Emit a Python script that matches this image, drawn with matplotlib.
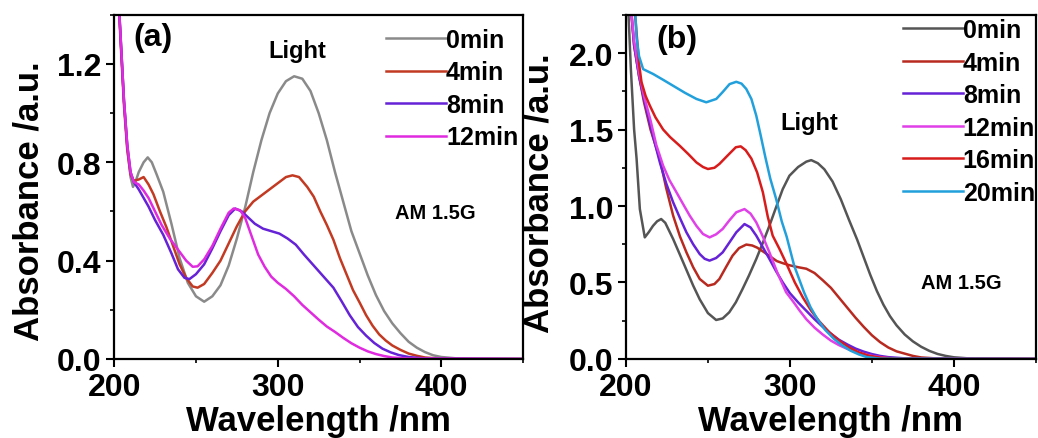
import matplotlib
matplotlib.use('Agg')
import matplotlib.pyplot as plt
from matplotlib.ticker import MultipleLocator

plt.rcParams['font.family'] = ['Liberation Sans', 'DejaVu Sans']
plt.rcParams['font.weight'] = 'bold'

# ---- panel (a) ----
a0_wl = [202, 204, 206, 208, 210, 211.5, 213, 215, 218, 220.5, 223, 226, 230, 235, 240, 245, 250, 255,
         260, 265, 270, 275, 280, 285, 290, 295, 300, 305, 310, 315, 320, 325, 330, 335, 340, 345, 350,
         355, 360, 365, 370, 375, 380, 385, 390, 395, 400, 410, 420, 450]
a0_abs = [1.55, 1.30, 1.05, 0.86, 0.74, 0.70, 0.72, 0.76, 0.80, 0.82, 0.80, 0.75, 0.68, 0.55, 0.41, 0.31,
          0.255, 0.233, 0.255, 0.30, 0.38, 0.49, 0.615, 0.76, 0.89, 1.00, 1.08, 1.13, 1.15, 1.14, 1.09, 1.00,
          0.89, 0.76, 0.64, 0.52, 0.43, 0.34, 0.26, 0.195, 0.145, 0.105, 0.07, 0.046, 0.028, 0.015, 0.008,
          0.002, 0.0, 0.0]

a4_wl = [202, 204, 206, 208, 210, 212, 215, 218, 221, 224, 228, 232, 236, 240, 244, 248, 251, 255, 260,
         265, 270, 275, 280, 285, 290, 295, 300, 305, 309, 313, 318, 322, 326, 330, 334, 338, 342, 346,
         350, 354, 358, 362, 366, 370, 375, 380, 385, 390, 400, 450]
a4_abs = [1.55, 1.28, 1.03, 0.85, 0.75, 0.725, 0.73, 0.74, 0.71, 0.67, 0.60, 0.535, 0.46, 0.385, 0.33,
          0.295, 0.29, 0.305, 0.35, 0.40, 0.47, 0.54, 0.60, 0.64, 0.665, 0.69, 0.715, 0.74, 0.747, 0.74,
          0.70, 0.66, 0.60, 0.545, 0.485, 0.41, 0.345, 0.28, 0.23, 0.178, 0.135, 0.10, 0.075, 0.055, 0.037,
          0.022, 0.013, 0.006, 0.001, 0.0]

a8_wl = [202, 204, 206, 208, 210, 212, 215, 218, 221, 225, 230, 235, 239, 243, 246, 250, 255, 260, 265,
         270, 274, 278, 282, 286, 291, 296, 301, 306, 311, 316, 322, 328, 334, 339, 344, 349, 354, 359,
         364, 369, 374, 380, 390, 450]
a8_abs = [1.55, 1.30, 1.05, 0.87, 0.76, 0.72, 0.69, 0.655, 0.62, 0.565, 0.505, 0.43, 0.365, 0.33, 0.325,
          0.345, 0.385, 0.45, 0.52, 0.585, 0.612, 0.60, 0.575, 0.55, 0.53, 0.52, 0.51, 0.49, 0.465, 0.425,
          0.38, 0.335, 0.29, 0.235, 0.178, 0.13, 0.095, 0.065, 0.042, 0.027, 0.016, 0.008, 0.002, 0.0]

a12_wl = [202, 204, 206, 208, 210, 212, 215, 218, 221, 225, 229, 234, 239, 244, 248, 251, 255, 260, 265,
          270, 273, 277, 280, 284, 288, 292, 296, 300, 305, 310, 315, 320, 325, 330, 335, 340, 345, 350,
          355, 360, 365, 370, 380, 450]
a12_abs = [1.55, 1.30, 1.05, 0.87, 0.76, 0.72, 0.71, 0.685, 0.655, 0.60, 0.545, 0.49, 0.445, 0.40, 0.375,
           0.377, 0.405, 0.46, 0.53, 0.595, 0.612, 0.605, 0.575, 0.50, 0.425, 0.375, 0.335, 0.31, 0.285,
           0.255, 0.22, 0.19, 0.16, 0.132, 0.11, 0.086, 0.064, 0.046, 0.031, 0.02, 0.012, 0.006, 0.002, 0.0]

# ---- panel (b) ----
b0_wl = [201, 203, 205, 206.5, 208.5, 211.5, 214, 216.5, 219, 221.5, 224, 228.8, 233, 237, 241, 245,
         250, 255, 259, 263, 267, 271, 275, 279.5, 283.5, 287.5, 291.5, 295.6, 299.7, 305, 310, 313, 317,
         321, 326, 331, 336, 341, 345, 349, 353, 357, 361, 365, 370, 375, 380, 385, 390, 395, 400, 410,
         420, 450]
b0_abs = [2.4, 1.9, 1.5, 1.31, 0.98, 0.795, 0.83, 0.87, 0.90, 0.915, 0.89, 0.784, 0.68, 0.58, 0.48, 0.39,
          0.30, 0.255, 0.265, 0.305, 0.37, 0.455, 0.545, 0.654, 0.76, 0.871, 0.99, 1.11, 1.198, 1.255,
          1.29, 1.30, 1.28, 1.24, 1.16, 1.045, 0.91, 0.78, 0.665, 0.55, 0.445, 0.355, 0.28, 0.22, 0.16,
          0.115, 0.08, 0.053, 0.033, 0.02, 0.011, 0.003, 0.0, 0.0]

b4_wl = [203, 205, 208, 211, 215, 220.7, 224.5, 228.8, 233, 236.9, 241, 245, 250, 254, 257, 261, 265,
         269, 273.4, 277, 280, 284, 288, 292, 296, 300, 305, 310, 315, 320, 325, 330, 335, 340, 345, 350,
         355, 360, 365, 370, 375, 380, 390, 450]
b4_abs = [2.3, 2.05, 1.85, 1.68, 1.50, 1.307, 1.12, 0.937, 0.80, 0.697, 0.60, 0.523, 0.479, 0.49, 0.523,
          0.60, 0.675, 0.725, 0.748, 0.742, 0.728, 0.70, 0.67, 0.64, 0.625, 0.612, 0.60, 0.59, 0.562, 0.515,
          0.465, 0.40, 0.335, 0.27, 0.21, 0.155, 0.11, 0.075, 0.05, 0.035, 0.02, 0.01, 0.003, 0.0]

b8_wl = [203, 205, 208, 211, 215, 220.7, 224.5, 228.8, 233, 236.9, 241, 245, 248, 251, 255, 259, 263,
         267.3, 272.3, 276, 279.5, 283.5, 287.5, 291.5, 295.6, 300, 305, 310, 315, 320, 325, 330, 335,
         340, 345, 350, 355, 360, 370, 450]
b8_abs = [2.3, 2.05, 1.85, 1.70, 1.52, 1.285, 1.15, 1.024, 0.92, 0.828, 0.75, 0.686, 0.655, 0.643, 0.66,
          0.697, 0.76, 0.828, 0.882, 0.86, 0.806, 0.73, 0.654, 0.575, 0.501, 0.43, 0.37, 0.315, 0.26, 0.21,
          0.165, 0.125, 0.095, 0.068, 0.048, 0.032, 0.02, 0.012, 0.004, 0.0]

b12_wl = [203, 205, 208, 211, 215, 218.5, 222.7, 226.5, 230.8, 235, 238.9, 243, 247, 251, 255, 259, 263,
          267.3, 272.3, 276, 279.5, 283.5, 287.5, 292.5, 297.7, 302, 306, 310, 315, 320, 325, 330, 335,
          340, 345, 350, 355, 360, 370, 450]
b12_abs = [2.3, 2.08, 1.87, 1.72, 1.56, 1.40, 1.263, 1.17, 1.09, 1.01, 0.937, 0.87, 0.817, 0.795, 0.815,
           0.85, 0.905, 0.959, 0.98, 0.95, 0.893, 0.80, 0.697, 0.56, 0.436, 0.375, 0.315, 0.26, 0.205, 0.16,
           0.12, 0.09, 0.066, 0.047, 0.032, 0.02, 0.012, 0.006, 0.002, 0.0]

b16_wl = [204, 206, 208, 209.5, 212, 214.6, 218, 222.7, 227, 232.8, 238, 243, 247, 250, 254, 257, 262,
          267, 270, 273, 276.5, 280, 283.5, 286.5, 289.5, 293.6, 298, 303, 308, 313, 318, 324, 330, 336,
          342, 348, 355, 365, 450]
b16_abs = [2.4, 2.2, 1.93, 1.81, 1.72, 1.656, 1.58, 1.50, 1.45, 1.394, 1.34, 1.285, 1.255, 1.242, 1.25,
           1.275, 1.33, 1.384, 1.39, 1.365, 1.31, 1.22, 1.09, 0.93, 0.806, 0.72, 0.62, 0.50, 0.40, 0.315,
           0.245, 0.175, 0.12, 0.075, 0.043, 0.022, 0.009, 0.002, 0.0]

b20_wl = [205, 206.5, 208, 210.5, 216.6, 222.7, 228.8, 236, 243, 249, 255.1, 259, 263.2, 267.3, 270.5,
          273.4, 276.5, 279.5, 282, 285, 288, 291.6, 295, 298, 302.6, 308.6, 312.5, 316.7, 321.5, 326.9,
          332, 337, 342, 347, 355, 450]
b20_abs = [2.4, 2.1, 1.98, 1.895, 1.863, 1.825, 1.786, 1.74, 1.70, 1.678, 1.70, 1.745, 1.797, 1.812, 1.80,
           1.765, 1.70, 1.59, 1.47, 1.32, 1.18, 1.046, 0.90, 0.80, 0.61, 0.436, 0.34, 0.261, 0.19, 0.131,
           0.088, 0.054, 0.03, 0.012, 0.002, 0.0]

labels_a = ['0min', '4min', '8min', '12min']
labels_b = ['0min', '4min', '8min', '12min', '16min', '20min']
colors_a = ['#8a8a8a', '#c23a22', '#6522d6', '#e02ae0']
colors_b = ['#555555', '#b82a20', '#6522d6', '#e040e8', '#d81c1c', '#22a0dc']

fig = plt.figure(figsize=(10.38, 4.39), dpi=100)
ax_a = fig.add_axes([0.110, 0.180, 0.394, 0.784])
ax_b = fig.add_axes([0.603, 0.180, 0.395, 0.784])


def style_axis(ax, ymax, ymajor, yminor, label_x, label_y):
    ax.set_xlim(200, 450)
    ax.set_ylim(0, ymax)
    ax.xaxis.set_major_locator(MultipleLocator(100))
    ax.xaxis.set_minor_locator(MultipleLocator(50))
    ax.yaxis.set_major_locator(MultipleLocator(ymajor))
    ax.yaxis.set_minor_locator(MultipleLocator(yminor))
    ax.yaxis.set_major_formatter(plt.FormatStrFormatter('%.1f'))
    ax.tick_params(which='major', direction='out', length=5.5, width=1.5, labelsize=23, pad=3.5)
    ax.tick_params(axis='x', which='major', pad=4)
    ax.tick_params(which='minor', direction='out', length=3, width=1.2)
    for s in ax.spines.values():
        s.set_linewidth(1.6)
    for lab in ax.get_xticklabels() + ax.get_yticklabels():
        lab.set_fontweight('bold')
    ax.set_xlabel('Wavelength /nm', fontsize=25, fontweight='bold', labelpad=1)
    ax.set_ylabel('Absorbance /a.u.', fontsize=25, fontweight='bold')
    ax.yaxis.set_label_coords(label_x, label_y)


leg_kw = dict(loc='upper right', frameon=False, handlelength=2.4, handletextpad=0.0,
              labelspacing=0.34, borderaxespad=0.0, borderpad=0.0,
              prop={'weight': 'bold', 'size': 18})

for wl, ab, c, lab in zip([a0_wl, a4_wl, a8_wl, a12_wl], [a0_abs, a4_abs, a8_abs, a12_abs], colors_a, labels_a):
    ax_a.plot(wl, ab, color=c, lw=1.8, label=lab)
style_axis(ax_a, 1.4, 0.4, 0.2, -0.168, 0.462)
ax_a.legend(bbox_to_anchor=(0.988, 0.962), **leg_kw)
ax_a.text(0.046, 0.935, '(a)', transform=ax_a.transAxes, fontsize=23, fontweight='bold', ha='left', va='center')
ax_a.text(0.448, 0.895, 'Light', transform=ax_a.transAxes, fontsize=17, fontweight='bold', ha='center', va='center')
ax_a.text(0.786, 0.425, 'AM 1.5G', transform=ax_a.transAxes, fontsize=14.5, fontweight='bold', ha='center', va='center')

for wl, ab, c, lab in zip([b0_wl, b4_wl, b8_wl, b12_wl, b16_wl, b20_wl],
                          [b0_abs, b4_abs, b8_abs, b12_abs, b16_abs, b20_abs], colors_b, labels_b):
    ax_b.plot(wl, ab, color=c, lw=1.8, label=lab)
style_axis(ax_b, 2.25, 0.5, 0.25, -0.171, 0.484)
ax_b.legend(bbox_to_anchor=(0.998, 0.99), **leg_kw)
ax_b.text(0.075, 0.93, '(b)', transform=ax_b.transAxes, fontsize=23, fontweight='bold', ha='left', va='center')
ax_b.text(0.448, 0.687, 'Light', transform=ax_b.transAxes, fontsize=17, fontweight='bold', ha='center', va='center')
ax_b.text(0.818, 0.222, 'AM 1.5G', transform=ax_b.transAxes, fontsize=14.5, fontweight='bold', ha='center', va='center')

fig.savefig('out.png', dpi=100)
